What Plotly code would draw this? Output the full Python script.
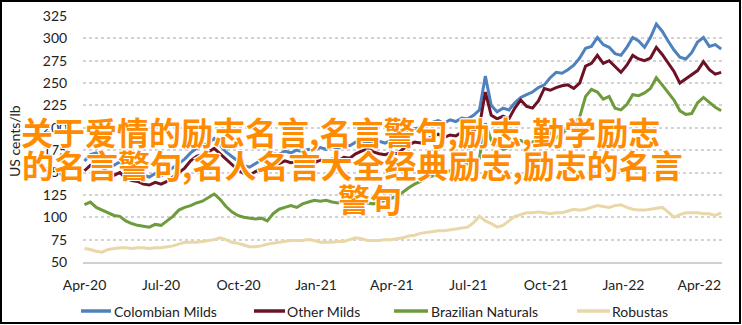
import pandas as pd
import plotly.graph_objects as go

# Weekly observations, first week of April 2020 to end of April 2022 (US cents/lb)
dates = pd.date_range("2020-04-01", periods=109, freq="7D")

colombian_milds = [
    163, 170, 172, 167, 161, 158, 162, 155, 152, 150, 147, 145, 149, 146, 151, 155,
    161, 165, 172, 177, 180, 183, 188, 180, 173, 168, 163, 158, 156, 160, 164, 168,
    171, 170, 174, 172, 175, 173, 176, 175, 178, 176, 179, 177, 181, 180, 184, 186,
    183, 182, 185, 183, 186, 184, 190, 196, 199, 200, 204, 206, 208, 205, 209, 207,
    211, 210, 214, 220, 258, 225, 218, 222, 220, 228, 234, 237, 240, 245, 248, 256,
    262, 261, 265, 270, 278, 289, 291, 301, 293, 290, 283, 281, 290, 301, 297, 290,
    301, 316, 308, 297, 287, 279, 277, 284, 296, 301, 291, 293, 288,
]

other_milds = [
    152, 158, 160, 156, 150, 147, 150, 144, 141, 140, 137, 136, 139, 137, 140, 145,
    150, 155, 163, 168, 170, 173, 177, 171, 164, 158, 153, 149, 147, 151, 154, 158,
    161, 160, 163, 161, 162, 160, 162, 161, 164, 162, 165, 163, 167, 166, 171, 174,
    177, 173, 171, 170, 172, 171, 176, 181, 184, 183, 187, 190, 193, 189, 192, 191,
    195, 194, 197, 202, 240, 214, 210, 213, 210, 222, 231, 224, 222, 230, 244, 242,
    245, 247, 248, 244, 250, 269, 272, 281, 272, 275, 269, 262, 270, 281, 277, 275,
    278, 290, 282, 272, 263, 250, 255, 259, 264, 274, 265, 260, 262,
]

brazilian_naturals = [
    114, 117, 111, 108, 105, 102, 101, 96, 93, 91, 90, 89, 92, 91, 96, 101,
    108, 111, 113, 116, 118, 122, 126, 120, 112, 106, 102, 100, 99, 98, 99, 96,
    104, 109, 111, 113, 111, 115, 117, 119, 118, 119, 117, 116, 119, 121, 120, 118,
    116, 115, 117, 119, 121, 124, 128, 133, 137, 140, 144, 146, 147, 150, 152, 155,
    157, 160, 162, 166, 205, 186, 181, 176, 178, 183, 186, 182, 184, 188, 191, 194,
    189, 193, 200, 204, 212, 235, 243, 240, 232, 235, 222, 220, 226, 237, 236, 239,
    244, 256, 248, 240, 231, 219, 215, 216, 228, 234, 228, 223, 219,
]

robustas = [
    65, 64, 62, 61, 64, 65, 66, 66, 65, 66, 66, 65, 66, 66, 67, 68,
    70, 72, 72, 72, 73, 74, 75, 77, 75, 72, 71, 69, 67, 67, 68, 70,
    71, 72, 73, 74, 74, 74, 75, 74, 72, 72, 72, 73, 73, 75, 77, 76,
    74, 74, 74, 75, 75, 76, 77, 79, 80, 82, 83, 84, 85, 85, 86, 87,
    88, 89, 94, 101, 96, 93, 89, 91, 96, 101, 103, 105, 105, 106, 105, 104,
    105, 105, 107, 109, 108, 109, 111, 113, 112, 111, 113, 114, 111, 109, 108, 108,
    109, 110, 111, 106, 100, 103, 105, 105, 105, 104, 104, 102, 105,
]

series_names = ["Colombian Milds", "Other Milds", "Brazilian Naturals", "Robustas"]
series_values = [colombian_milds, other_milds, brazilian_naturals, robustas]
series_colors = ["#4F81BD", "#6B1226", "#6E9B3E", "#EAD7A8"]

y_ticks = [50, 75, 100, 125, 150, 175, 200, 225, 250, 275, 300, 325]
x_tick_dates = ["2020-04-01", "2020-07-01", "2020-10-01", "2021-01-01", "2021-04-01",
                "2021-07-01", "2021-10-01", "2022-01-01", "2022-04-01"]
x_tick_labels = ["Apr-20", "Jul-20", "Oct-20", "Jan-21", "Apr-21",
                 "Jul-21", "Oct-21", "Jan-22", "Apr-22"]

overlay_lines = [
    "关于爱情的励志名言,名言警句,励志,勤学励志",
    "的名言警句,名人名言大全经典励志,励志的名言",
    "警句",
]

W, H = 742, 325
L, R, T, B = 83, 20, 16, 63
PW, PH = W - L - R, H - T - B


def px_x(px):
    return (px - L) / PW


def px_y(py):
    return (H - B - py) / PH


fig = go.Figure()
for name, vals, col in zip(series_names, series_values, series_colors):
    fig.add_trace(go.Scatter(
        x=dates, y=vals, name=name, mode="lines",
        line=dict(color=col, width=3), showlegend=False,
    ))

label_font = dict(family="Lato", size=14, color="#222222")

fig.update_layout(
    width=W, height=H,
    margin=dict(l=L, r=R, t=T, b=B, autoexpand=False),
    paper_bgcolor="white", plot_bgcolor="white",
    font=label_font,
    xaxis=dict(
        type="date", range=["2020-03-30 06:00", "2022-04-28 00:00"],
        tickvals=x_tick_dates, ticktext=x_tick_labels,
        showgrid=False, zeroline=False,
        showline=True, linecolor="#D0D0D0", linewidth=1.5,
        ticks="outside", ticklen=9, tickcolor="rgba(0,0,0,0)",
        tickfont=label_font,
    ),
    yaxis=dict(
        range=[49.99, 325.01], tickvals=y_ticks,
        showgrid=True, gridcolor="#D3D3D3", gridwidth=2, griddash="dot",
        zeroline=False, showline=False,
        ticks="outside", ticklen=12, tickcolor="rgba(0,0,0,0)",
        tickfont=label_font,
    ),
)

# legend row below the axis: line sample followed by the series name
legend_y = 311
legend_slots = [(81, 111, 112), (254, 285, 285), (394, 428, 429), (577, 610, 610)]
for (lx0, lx1, tx), name, col in zip(legend_slots, series_names, series_colors):
    fig.add_shape(
        type="line", xref="paper", yref="paper",
        x0=px_x(lx0), x1=px_x(lx1), y0=px_y(legend_y), y1=px_y(legend_y),
        line=dict(color=col, width=3.5),
    )
    fig.add_annotation(
        text=name, showarrow=False, xref="paper", yref="paper",
        x=px_x(tx), y=px_y(legend_y), xanchor="left", yanchor="middle",
        font=label_font,
    )

# y-axis title
fig.add_annotation(
    text="US cents/lb", textangle=-90, showarrow=False,
    xref="paper", yref="paper", x=px_x(14), y=px_y(141),
    xanchor="center", yanchor="middle",
    font=dict(family="Lato", size=14, color="#222222"),
)

# outer frame
fig.add_shape(
    type="rect", xref="paper", yref="paper",
    x0=px_x(1), x1=px_x(740), y0=px_y(323), y1=px_y(1),
    line=dict(color="black", width=2), fillcolor="rgba(0,0,0,0)", layer="above",
)

# overlaid heading text
outline = "-1px -1px 0 #fff, 1px -1px 0 #fff, -1px 1px 0 #fff, 1px 1px 0 #fff, 0 0 2px #fff"
for txt, cx, cy in zip(overlay_lines, [340, 352, 370], [131, 164, 198]):
    fig.add_annotation(
        text=txt, showarrow=False, xref="paper", yref="paper",
        x=px_x(cx), y=px_y(cy), xanchor="center", yanchor="middle",
        font=dict(family="Noto Sans CJK SC", size=32, color="#FF8C00",
                  weight="bold", shadow=outline),
    )

fig.write_html("out.html", config={"displayModeBar": False})
